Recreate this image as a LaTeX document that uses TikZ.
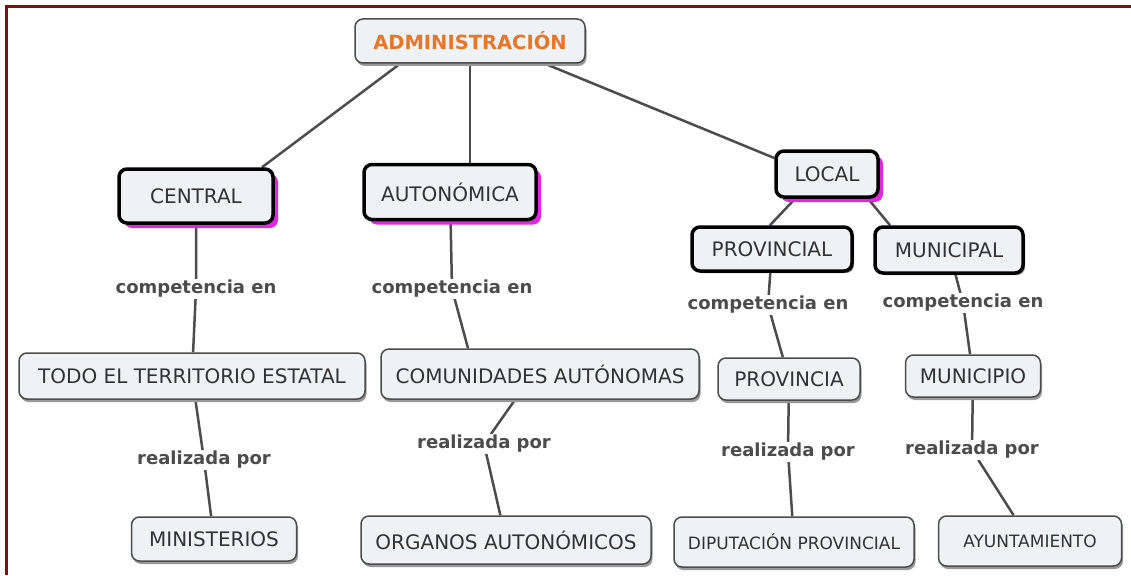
\documentclass[tikz,border=0pt]{standalone}
\usepackage{fontspec}
\setmainfont{DejaVu Sans}
\usetikzlibrary{shadows,backgrounds}
\definecolor{boxfill}{RGB}{238,242,245}
\definecolor{framered}{RGB}{139,10,10}
\definecolor{admor}{RGB}{232,118,40}
\definecolor{magshadow}{RGB}{225,40,225}
\tikzset{
 base/.style={rounded corners=8pt, fill=boxfill, inner sep=0pt, align=center, font=\fontsize{20}{24}\selectfont, text=black!80},
 box/.style={base, draw=black!70, line width=1.5pt, drop shadow={shadow xshift=1.5pt, shadow yshift=-3pt, fill=black!40, opacity=1}},
 keybox/.style={base, draw=black, line width=3.5pt, drop shadow={shadow xshift=2pt, shadow yshift=-2pt, fill=black!50, opacity=1}},
 keymag/.style={base, draw=black, line width=3.5pt, drop shadow={shadow xshift=5pt, shadow yshift=-5pt, fill=magshadow, opacity=1}},
 lab/.style={fill=white, inner sep=1pt, font=\bfseries\fontsize{18}{21}\selectfont, text=black!70},
 edge/.style={draw=black!70, line width=2.5pt}
}
\begin{document}
\begin{tikzpicture}[x=1pt,y=-1pt]
\useasboundingbox (0,0) rectangle (1131,575);
% nodes
\node[box, minimum width=230, minimum height=44, font=\bfseries\fontsize{19.5}{22}\selectfont, text=admor] (adm) at (470,41) {ADMINISTRACIÓN};
\node[keymag, minimum width=154, minimum height=54] (central) at (196,196) {CENTRAL};
\node[keymag, minimum width=172, minimum height=55] (auto) at (450,192) {AUTONÓMICA};
\node[keymag, minimum width=102, minimum height=46] (local) at (827,174) {LOCAL};
\node[keybox, minimum width=160, minimum height=44] (prov) at (772,249) {PROVINCIAL};
\node[keybox, minimum width=148, minimum height=46] (muni) at (949,250) {MUNICIPAL};
\node[box, minimum width=346, minimum height=46] (todo) at (192,376) {TODO EL TERRITORIO ESTATAL};
\node[box, minimum width=318, minimum height=50] (comu) at (540,374) {COMUNIDADES AUTÓNOMAS};
\node[box, minimum width=142, minimum height=42] (provincia) at (789,379) {PROVINCIA};
\node[box, minimum width=135, minimum height=42] (municipio) at (973,376) {MUNICIPIO};
\node[box, minimum width=165, minimum height=44] (mini) at (214,539) {MINISTERIOS};
\node[box, minimum width=290, minimum height=48] (organos) at (506,540) {ORGANOS AUTONÓMICOS};
\node[box, minimum width=240, minimum height=50, font=\fontsize{17}{20}\selectfont] (dipu) at (794,542) {DIPUTACIÓN PROVINCIAL};
\node[box, minimum width=183, minimum height=50, font=\fontsize{17}{20}\selectfont] (ayun) at (1030,541) {AYUNTAMIENTO};
% link labels
\node[lab] (l1) at (196,289) {competencia en};
\node[lab] (l2) at (452,289) {competencia en};
\node[lab] (l3) at (768,305) {competencia en};
\node[lab] (l4) at (963,303) {competencia en};
\node[lab] (r1) at (204,460) {realizada por};
\node[lab] (r2) at (484,444) {realizada por};
\node[lab] (r3) at (788,452) {realizada por};
\node[lab] (r4) at (972,450) {realizada por};
\begin{pgfonlayer}{background}
\fill[white] (0,0) rectangle (1131,575);
\draw[framered, line width=3pt] (6,575) -- (6,7) -- (1131,7);
\draw[edge] ([xshift=-70pt]adm.south) -- ([xshift=66pt]central.north);
\draw[edge] (adm.south) -- ([xshift=20pt]auto.north);
\draw[edge] ([xshift=75pt]adm.south) -- ([yshift=16pt]local.west);
\draw[edge] (central) -- (l1) -- (todo) -- (r1) -- (mini);
\draw[edge] (auto) -- (l2) -- ([xshift=-72pt]comu.north);
\draw[edge] ([xshift=-25pt]comu.south) -- (r2) -- (organos);
\draw[edge] ([xshift=-32pt]local.south) -- ([xshift=-2pt]prov.north);
\draw[edge] ([xshift=41pt]local.south) -- ([xshift=-59pt]muni.north);
\draw[edge] (prov) -- (l3) -- (provincia) -- (r3) -- (dipu);
\draw[edge] (muni) -- (l4) -- (municipio) -- (r4) -- (ayun);
\end{pgfonlayer}
\end{tikzpicture}
\end{document}
